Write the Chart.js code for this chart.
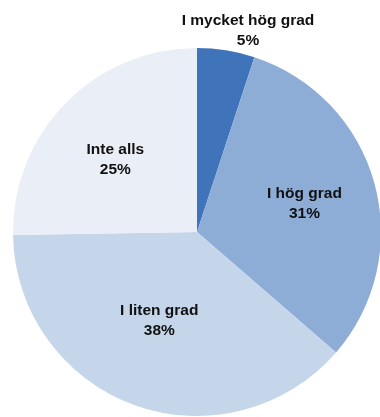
<!DOCTYPE html>
<html lang="sv">
<head>
<meta charset="utf-8">
<title>I vilken grad</title>
<script src="https://cdn.jsdelivr.net/npm/chart.js@4/dist/chart.umd.min.js"></script>
<style>
  html, body { margin: 0; padding: 0; background: #ffffff; overflow: hidden; }
  #wrap { position: relative; width: 380px; height: 417px; overflow: hidden; }
  #pie { position: absolute; left: 0; top: 0; }
</style>
</head>
<body>
<div id="wrap"><canvas id="pie" width="395" height="417"></canvas></div>
<script>
// Answer categories, clockwise from twelve o'clock
const categories = ['I mycket hög grad', 'I hög grad', 'I liten grad', 'Inte alls'];
// Share of answers, in percent
const shares = [5, 31, 38, 25];
// Text shown under each category name
const shareLabels = ['5%', '31%', '38%', '25%'];

const sliceColors = ['#3f74ba', '#8eadd6', '#c5d6eb', '#e9eef7'];

// Label placement: fraction of the radius along the slice's mid angle, plus a nudge in px
const labelRadius = [1.1, 0.6, 0.52, 0.6];
const labelNudge = [[19, -1], [1, 1], [-5, -1.5], [-3, 5]];

const sliceLabels = {
  id: 'sliceLabels',
  afterDatasetsDraw(chart) {
    const ctx = chart.ctx;
    const arcs = chart.getDatasetMeta(0).data;
    ctx.save();
    ctx.fillStyle = '#111111';
    ctx.font = 'bold 15.5px "Liberation Sans", Arial, sans-serif';
    ctx.textAlign = 'center';
    ctx.textBaseline = 'middle';
    arcs.forEach((arc, i) => {
      const p = arc.getProps(['x', 'y', 'startAngle', 'endAngle', 'outerRadius'], true);
      const mid = (p.startAngle + p.endAngle) / 2;
      const r = p.outerRadius * labelRadius[i];
      const cx = p.x + Math.cos(mid) * r + labelNudge[i][0];
      const cy = p.y + Math.sin(mid) * r + labelNudge[i][1];
      ctx.fillText(categories[i], cx, cy - 10);
      ctx.fillText(shareLabels[i], cx, cy + 10);
    });
    ctx.restore();
  }
};

new Chart(document.getElementById('pie'), {
  type: 'pie',
  data: {
    labels: categories,
    datasets: [{
      data: shares,
      backgroundColor: sliceColors,
      borderWidth: 0
    }]
  },
  options: {
    responsive: false,
    animation: false,
    devicePixelRatio: 1,
    layout: { padding: { left: 13, top: 48, right: 14, bottom: 1 } },
    plugins: {
      legend: { display: false },
      tooltip: { enabled: false }
    }
  },
  plugins: [sliceLabels]
});
</script>
</body>
</html>
